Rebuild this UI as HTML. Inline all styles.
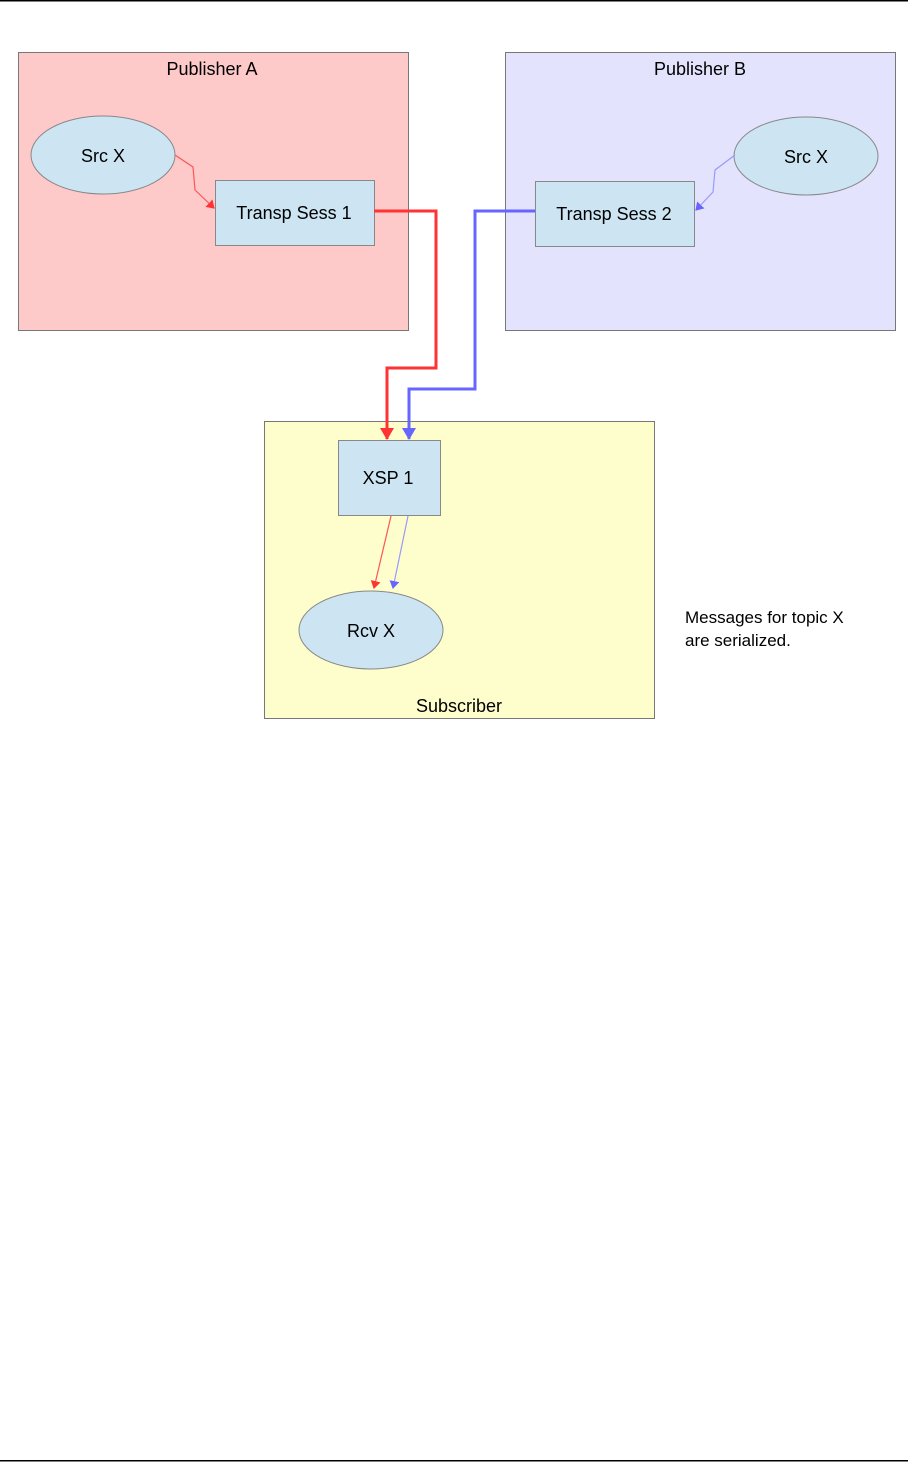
<!DOCTYPE html>
<html><head><style>body{margin:0;background:#fff}svg{display:block}text{font-family:"Liberation Sans",sans-serif;fill:#000}</style></head><body>
<svg width="908" height="1463" viewBox="0 0 908 1463" xmlns="http://www.w3.org/2000/svg">
<defs>
<marker id="ar" markerWidth="8" markerHeight="10" refX="7" refY="5" orient="auto" markerUnits="userSpaceOnUse"><path d="M0,0 L8,5 L0,10 z" fill="#f33"/></marker>
<marker id="ab" markerWidth="8" markerHeight="10" refX="7" refY="5" orient="auto" markerUnits="userSpaceOnUse"><path d="M0,0 L8,5 L0,10 z" fill="#66f"/></marker>
<marker id="arL" markerWidth="12" markerHeight="14" refX="11" refY="7" orient="auto" markerUnits="userSpaceOnUse"><path d="M0,0 L12,7 L0,14 z" fill="#f33"/></marker>
<marker id="abL" markerWidth="12" markerHeight="14" refX="11" refY="7" orient="auto" markerUnits="userSpaceOnUse"><path d="M0,0 L12,7 L0,14 z" fill="#66f"/></marker>
</defs>
<rect x="0" y="0" width="908" height="1.5" fill="#000"/>
<rect x="0" y="1460" width="908" height="1.5" fill="#000"/>
<rect x="18.5" y="52.5" width="390" height="278" fill="#fdc9c9" stroke="#777"/>
<rect x="505.5" y="52.5" width="390" height="278" fill="#e3e3fd" stroke="#777"/>
<rect x="264.5" y="421.5" width="390" height="297" fill="#fefdcc" stroke="#777"/>
<text x="212" y="75" font-size="18" text-anchor="middle">Publisher  A</text>
<text x="700" y="75" font-size="18" text-anchor="middle">Publisher  B</text>
<text x="459" y="712" font-size="18" text-anchor="middle">Subscriber</text>
<ellipse cx="103" cy="155" rx="72" ry="39" fill="#cde5f3" stroke="#888"/>
<ellipse cx="806" cy="156" rx="72" ry="39" fill="#cde5f3" stroke="#888"/>
<ellipse cx="371" cy="630" rx="72" ry="39" fill="#cde5f3" stroke="#888"/>
<rect x="215.5" y="180.5" width="159" height="65" fill="#cde5f3" stroke="#888"/>
<rect x="535.5" y="181.5" width="159" height="65" fill="#cde5f3" stroke="#888"/>
<rect x="338.5" y="440.5" width="102" height="75" fill="#cde5f3" stroke="#888"/>
<text x="103" y="162" font-size="18" text-anchor="middle">Src X</text>
<text x="806" y="163" font-size="18" text-anchor="middle">Src X</text>
<text x="371" y="637" font-size="18" text-anchor="middle">Rcv X</text>
<text x="294" y="219" font-size="18" text-anchor="middle">Transp  Sess  1</text>
<text x="614" y="220" font-size="18" text-anchor="middle">Transp  Sess  2</text>
<text x="388" y="484" font-size="18" text-anchor="middle">XSP 1</text>
<text x="685" y="623" font-size="17">Messages for topic X</text>
<text x="685" y="646" font-size="17">are  serialized.</text>
<path d="M175,155 L193,167 L195,190 L214,208" fill="none" stroke="#f55" stroke-width="1.2" marker-end="url(#ar)"/>
<path d="M735,155 L715,170 L713,192 L696,210" fill="none" stroke="#99f" stroke-width="1.2" marker-end="url(#ab)"/>
<path d="M374,211 L436,211 L436,368 L387,368 L387,439" fill="none" stroke="#f33" stroke-width="3" marker-end="url(#arL)"/>
<path d="M535,211 L475,211 L475,389 L409,389 L409,439" fill="none" stroke="#66f" stroke-width="3" marker-end="url(#abL)"/>
<path d="M391,516 L374,588" fill="none" stroke="#f55" stroke-width="1.2" marker-end="url(#ar)"/>
<path d="M408,516 L393,588" fill="none" stroke="#99f" stroke-width="1.2" marker-end="url(#ab)"/>
</svg>
</body></html>
